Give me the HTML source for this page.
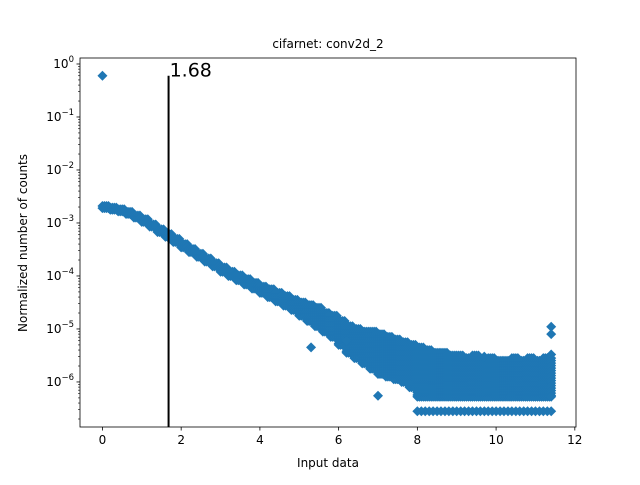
<!DOCTYPE html>
<html><head><meta charset="utf-8"><style>
body{margin:0;background:#fff}
svg text{font-family:"DejaVu Sans","Liberation Sans",sans-serif;fill:#000}
</style></head><body>
<svg id="chart" width="640" height="480" viewBox="0 0 640 480" xmlns="http://www.w3.org/2000/svg">
<rect width="640" height="480" fill="#fff"/>
<text x="328" y="48" font-size="12" text-anchor="middle">cifarnet: conv2d_2</text>
<text x="328" y="467" font-size="12" text-anchor="middle">Input data</text>
<text transform="translate(27,243) rotate(-90)" font-size="12" text-anchor="middle">Normalized number of counts</text>
<g id="marks"></g>
<g id="axes"></g>
</svg>
<script>
const colX = [0,0.2,0.4,0.6,0.8,1.0,1.2,1.4,1.6,1.8,2.0,2.2,2.4,2.6,2.8,3.0,3.2,3.4,3.6,3.8,4.0,4.2,4.4,4.6,4.8,5.0,5.2,5.4,5.6,5.8,6.0,6.2,6.4,6.6,6.8,7.0,7.2,7.4,7.6,7.8,8.0,8.2,8.4,8.6,8.8,9.0,9.2,9.4,9.6,9.8,10.0,10.2,10.4,10.6,10.8,11.0,11.2,11.4];
const colHiLog = [-2.68,-2.71,-2.74,-2.79,-2.86,-2.93,-3.03,-3.12,-3.21,-3.30,-3.40,-3.49,-3.58,-3.67,-3.76,-3.84,-3.92,-3.99,-4.06,-4.13,-4.20,-4.25,-4.32,-4.38,-4.45,-4.50,-4.55,-4.60,-4.70,-4.75,-4.85,-4.95,-5.0,-5.05,-5.05,-5.1,-5.15,-5.2,-5.25,-5.3,-5.35,-5.4,-5.45,-5.45,-5.5,-5.5,-5.55,-5.5,-5.6,-5.55,-5.6,-5.6,-5.55,-5.6,-5.55,-5.6,-5.55,-5.55];
const colLoLog = [-2.72,-2.75,-2.78,-2.83,-2.90,-2.98,-3.07,-3.17,-3.26,-3.36,-3.46,-3.55,-3.64,-3.73,-3.82,-3.92,-4.0,-4.08,-4.16,-4.24,-4.32,-4.40,-4.48,-4.56,-4.64,-4.75,-4.85,-4.95,-5.05,-5.15,-5.3,-5.45,-5.55,-5.65,-5.75,-5.85,-5.9,-5.95,-6.0,-6.1,-6.28,-6.28,-6.28,-6.28,-6.28,-6.28,-6.28,-6.28,-6.28,-6.28,-6.28,-6.28,-6.28,-6.28,-6.28,-6.28,-6.28,-6.28];
const floorRowX = [8.0,8.2,8.4,8.6,8.8,9.0,9.2,9.4,9.6,9.8,10.0,10.2,10.4,10.6,10.8,11.0,11.2,11.4];
const floorRowValue = 2.8e-7;
const outlierX = [0, 11.4, 11.4, 11.4, 7.0, 5.3, 9.7, 6.2];
const outlierY = [0.6, 1.1e-5, 8e-6, 3.3e-6, 5.5e-7, 4.5e-6, 3e-6, 6e-6];
const thresholdValue = 1.68;
const thresholdTop = 0.6;
const xTicks = [0,2,4,6,8,10,12];
const yTickExps = [0,-1,-2,-3,-4,-5,-6];

const L=80,R=576,T=58,B=427;
const xMin=-0.57,xMax=12.03,yMinLog=-6.85,yMaxLog=0.113;
const xs=v=>L+(v-xMin)/(xMax-xMin)*(R-L);
const ysLog=lv=>B-(lv-yMinLog)/(yMaxLog-yMinLog)*(B-T);
const ys=v=>ysLog(Math.log10(v));
const NS="http://www.w3.org/2000/svg";
const marks=document.getElementById('marks');
const axes=document.getElementById('axes');
function mk(tag,attrs,parent){const e=document.createElementNS(NS,tag);for(const k in attrs)e.setAttribute(k,attrs[k]);parent.appendChild(e);return e;}
function diamond(cx,cy){const s=5;return mk('path',{d:`M${cx} ${cy-s}L${cx+s} ${cy}L${cx} ${cy+s}L${cx-s} ${cy}Z`,fill:'#1f77b4'},marks);}
for(let i=0;i<colX.length;i++){
  const cx=xs(colX[i]);const y1=ysLog(colHiLog[i]),y2=ysLog(colLoLog[i]);
  const last=i===colX.length-1;
  const offs=last?[0]:[0,2,4,6];
  for(const off of offs){
    for(let y=y1;y<=y2+0.01;y+=2.5){
      const d=diamond(cx+off,y);
      
      
    }
    const e=diamond(cx+off,y2);
    
    
  }
}
for(let i=0;i<floorRowX.length;i++){
  const offs=i===floorRowX.length-1?[0]:[0,4];
  for(const off of offs){
    const d=diamond(xs(floorRowX[i])+off,ys(floorRowValue));
    
    
  }
}
for(let i=0;i<outlierX.length;i++){
  const d=diamond(xs(outlierX[i]),ys(outlierY[i]));
  
  
}
const tl=mk('line',{x1:xs(thresholdValue),x2:xs(thresholdValue),y1:B,y2:ys(thresholdTop),stroke:'#000','stroke-width':2},axes);


const tt=mk('text',{x:xs(thresholdValue)+1,y:ys(thresholdTop)+1,'font-size':19},axes);
tt.textContent=String(thresholdValue);


const fr=mk('rect',{x:L,y:T,width:R-L,height:B-T,fill:'none',stroke:'#000','stroke-width':0.8},axes);


for(const t of xTicks){
  const x=xs(t);
  const ln=mk('line',{x1:x,x2:x,y1:B,y2:B+3.5,stroke:'#000','stroke-width':0.8},axes);
  
  
  const tx=mk('text',{x:x,y:B+17,'font-size':12,'text-anchor':'middle'},axes);
  tx.textContent=String(t);
  
  
}
for(const e of yTickExps){
  const y=ysLog(e);
  const ln=mk('line',{x1:L-3.5,x2:L,y1:y,y2:y,stroke:'#000','stroke-width':0.8},axes);
  
  
  const tx=mk('text',{x:L-6,y:y+4,'font-size':12,'text-anchor':'end'},axes);
  const b=mk('tspan',{},tx);b.textContent='10';
  const s=mk('tspan',{dy:-6,'font-size':8.5},tx);s.textContent=e===0?'0':'\u2212'+(-e);
  
  
}
for(let e=-7;e<=0;e++){for(let m=2;m<=9;m++){
  const lv=e+Math.log10(m);if(lv<yMinLog||lv>yMaxLog)continue;
  const y=ysLog(lv);
  const ln=mk('line',{x1:L-2,x2:L,y1:y,y2:y,stroke:'#000','stroke-width':0.6},axes);
  
  
}}
</script>
</body></html>
